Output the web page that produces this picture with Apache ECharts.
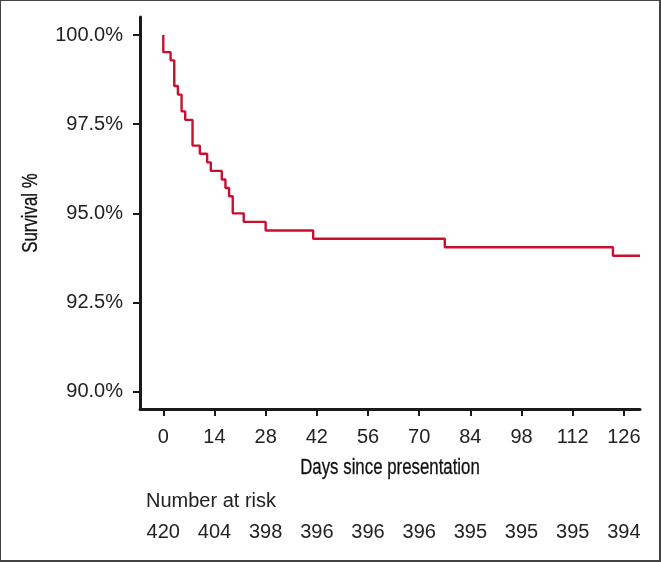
<!DOCTYPE html>
<html>
<head>
<meta charset="utf-8">
<script src="https://cdn.jsdelivr.net/npm/echarts@6/dist/echarts.min.js"></script>
<style>
html,body{margin:0;padding:0;background:#fff;}
#chart{width:661px;height:563px;}
</style>
</head>
<body>
<div id="chart"></div>
<script>
// Kaplan-Meier step data (day of change, survival % after that day)
const days = [0, 0, 2, 3, 4, 5, 6, 8, 10, 12, 13, 16, 17, 18, 19, 22, 28, 41, 77, 123, 130.4];
const survival = [100, 99.52, 99.29, 98.57, 98.33, 97.86, 97.62, 96.90, 96.67, 96.43, 96.19, 95.95, 95.71, 95.48, 95.00, 94.76, 94.52, 94.29, 94.05, 93.81, 93.81];
const xTicks = [0, 14, 28, 42, 56, 70, 84, 98, 112, 126];
const yTicks = [90, 92.5, 95, 97.5, 100];
const riskCounts = [420, 404, 398, 396, 396, 396, 395, 395, 395, 394];
const xTitle = 'Days since presentation';
const yTitle = 'Survival %';
const riskTitle = 'Number at risk';

const chart = echarts.init(document.getElementById('chart'));
const lineData = days.map((d, i) => [d, survival[i]]);
const txt = '#222';
const font = 'Liberation Sans, Arial, Helvetica, sans-serif';

chart.setOption({
  animation: false,
  backgroundColor: '#fff',
  grid: {left: 140, right: 21, top: 17, bottom: 154, containLabel: false},
  xAxis: [{
    type: 'value', min: -6.37, max: 130.4,
    axisLine: {show: true, onZero: false, lineStyle: {color: '#1a1a1a', width: 3}},
    axisTick: {show: true, customValues: xTicks, length: 7, lineStyle: {color: '#1a1a1a', width: 2}},
    axisLabel: {customValues: xTicks, color: txt, fontSize: 20, fontFamily: font, margin: 18},
    splitLine: {show: false}
  }, {
    type: 'value', min: -6.37, max: 130.4, position: 'bottom', offset: 95,
    axisLine: {show: false}, axisTick: {show: false}, splitLine: {show: false},
    axisLabel: {customValues: xTicks, color: txt, fontSize: 20, fontFamily: font, margin: 18,
      formatter: v => { const i = xTicks.indexOf(v); return i >= 0 ? String(riskCounts[i]) : ''; }}
  }],
  yAxis: {
    type: 'value', min: 89.515, max: 100.505,
    axisLine: {show: true, onZero: false, lineStyle: {color: '#1a1a1a', width: 3}},
    axisTick: {show: true, customValues: yTicks, length: 7, lineStyle: {color: '#1a1a1a', width: 2}},
    axisLabel: {customValues: yTicks, color: txt, fontSize: 20, fontFamily: font, margin: 17,
      formatter: v => v.toFixed(1) + '%'},
    splitLine: {show: false}
  },
  series: [{
    type: 'line', step: 'end', data: lineData, showSymbol: false,
    xAxisIndex: 0, yAxisIndex: 0,
    lineStyle: {color: '#C8102E', width: 2.4}, clip: true
  }],
  graphic: [
    {type: 'text', x: 390, y: 468, scaleX: 0.765, scaleY: 1,
      style: {text: xTitle, fill: '#111', font: '22px ' + font, align: 'center', verticalAlign: 'middle', textAlign: 'center', textVerticalAlign: 'middle', stroke: '#111', lineWidth: 0.3}},
    {type: 'text', x: 31, y: 213, scaleX: 0.765, scaleY: 1, rotation: Math.PI / 2,
      style: {text: yTitle, fill: '#111', font: '22px ' + font, align: 'center', verticalAlign: 'middle', textAlign: 'center', textVerticalAlign: 'middle', stroke: '#111', lineWidth: 0.3}},
    {type: 'text', left: 146, top: 491, style: {text: riskTitle, fill: txt, font: '20px ' + font}},
    {type: 'rect', shape: {x: 0, y: 0, width: 660, height: 561}, style: {fill: 'none', stroke: '#444', lineWidth: 2}, silent: true}
  ]
});
</script>
</body>
</html>
